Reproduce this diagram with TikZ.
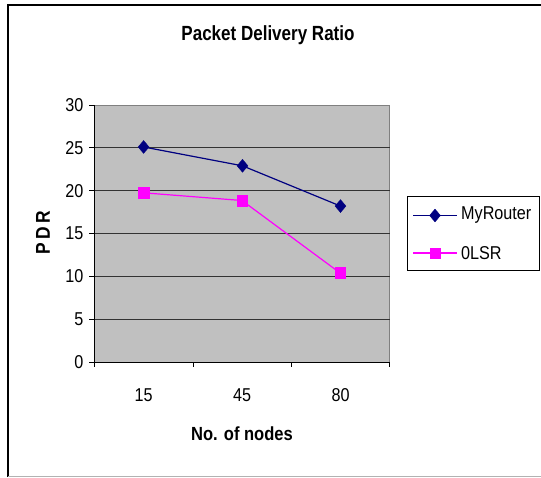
\documentclass[tikz,border=0pt]{standalone}
\usepackage{fontspec}
\setmainfont{Liberation Sans}[FakeStretch=0.87]
\newfontfamily\titlefont{Liberation Sans}[FakeStretch=0.83]
\usetikzlibrary{shapes.geometric}
\definecolor{plotgray}{HTML}{C0C0C0}
\definecolor{navyline}{HTML}{000080}
\definecolor{magline}{HTML}{FF00FF}
\tikzset{
  ticklbl/.style={font=\fontsize{18.6}{20}\selectfont, inner sep=0pt},
  grid line/.style={draw=black!80, line width=0.9pt},
  diam/.style={diamond, fill=navyline, draw=navyline, minimum width=11pt, minimum height=13pt, inner sep=0pt},
  sq/.style={rectangle, fill=magline, draw=magline, minimum size=10.5pt, inner sep=0pt},
  navyser/.style={draw=navyline, line width=1.2pt},
  magser/.style={draw=magline, line width=1.2pt},
}
\begin{document}
\begin{tikzpicture}[x=1pt,y=-1pt]
\useasboundingbox (0,0) rectangle (541,477);
% outer frame
\draw[black, line width=2pt] (8,477) -- (8,5) -- (541,5);
\draw[black!30, line width=1pt] (8,476) -- (541,476);
% plot area
\fill[plotgray] (94.5,105) rectangle (389.5,362);
\draw[black!50, line width=1pt] (94.5,105) -- (389.5,105) -- (389.5,362);
% gridlines and y labels
\foreach \v in {5,10,...,25} {
  \draw[grid line] (94.5,{362-\v*8.567}) -- (389.5,{362-\v*8.567});
}
\foreach \v in {0,5,...,30} {
  \draw[black, line width=0.9pt] (89,{362-\v*8.567}) -- (94.5,{362-\v*8.567});
  \node[ticklbl, anchor=east] (y\v) at (83.5,{362-\v*8.567}) {\v};
}
% axes
\draw[black, line width=1pt] (94.5,105) -- (94.5,362) -- (389.5,362);
\foreach \x in {94.5,193,291,389.5} {
  \draw[black, line width=0.9pt] (\x,362) -- (\x,367);
}
\node[ticklbl] (x15) at (143.6,395) {15};
\node[ticklbl] (x45) at (242,395) {45};
\node[ticklbl] (x80) at (340.5,395) {80};
% titles
\node[font=\titlefont\bfseries\fontsize{20.5}{22}\selectfont] (title) at (268,35) {Packet Delivery Ratio};
\node[font=\bfseries\fontsize{19}{21}\selectfont] (xlab) at (242,434) {No. of nodes};
\node[font=\bfseries\fontsize{20}{22}\selectfont, rotate=90] (ylab) at (43,233) {P\,D\,R};
% series
\coordinate (m1) at (143.6,{362-25.1*8.567});
\coordinate (m2) at (242.5,{362-22.9*8.567});
\coordinate (m3) at (340.5,{362-18.2*8.567});
\coordinate (o1) at (143.6,{362-19.75*8.567});
\coordinate (o2) at (242,{362-18.85*8.567});
\coordinate (o3) at (340,{362-10.4*8.567});
\draw[navyser] (m1) -- (m2) -- (m3);
\draw[magser] (o1) -- (o2) -- (o3);
\foreach \p in {m1,m2,m3} \node[diam] (d\p) at (\p) {};
\foreach \p in {o1,o2,o3} \node[sq] (s\p) at (\p) {};
% legend
\node[draw=black, line width=0.9pt, minimum width=132.6pt, minimum height=74.3pt, anchor=north west, inner sep=0pt] (legend) at (406.7,195.7) {};
\coordinate (la1) at (413,215.5);
\coordinate (lb1) at (457,215.5);
\coordinate (la2) at (413,253);
\coordinate (lb2) at (457,253);
\draw[navyser] (la1) -- (lb1);
\draw[magser] (la2) -- (lb2);
\node[diam] (ld) at (435,215.5) {};
\node[sq] (ls) at (435,253) {};
\node[ticklbl, anchor=west] (lt1) at (461,215.5) {MyRouter};
\node[ticklbl, anchor=west] (lt2) at (461,253) {0LSR};
\end{tikzpicture}
\end{document}
